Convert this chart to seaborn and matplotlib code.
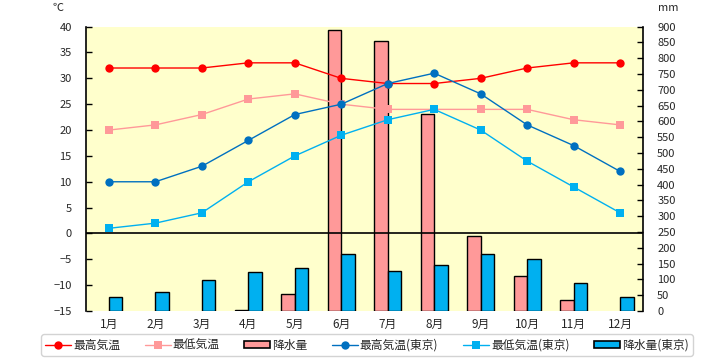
import matplotlib
matplotlib.use("Agg")
import matplotlib.pyplot as plt
import seaborn as sns
import pandas as pd
import numpy as np
from matplotlib.lines import Line2D
from matplotlib.patches import Patch

months = ["1月", "2月", "3月", "4月", "5月", "6月", "7月", "8月", "9月", "10月", "11月", "12月"]
max_temp = [32, 32, 32, 33, 33, 30, 29, 29, 30, 32, 33, 33]
min_temp = [20, 21, 23, 26, 27, 25, 24, 24, 24, 24, 22, 21]
precip = [0, 0, 0, 3, 53, 890, 853, 622, 237, 110, 34, 0]
tokyo_max = [10, 10, 13, 18, 23, 25, 29, 31, 27, 21, 17, 12]
tokyo_min = [1, 2, 4, 10, 15, 19, 22, 24, 20, 14, 9, 4]
tokyo_precip = [43, 60, 97, 122, 135, 182, 126, 145, 179, 164, 88, 43]

labels = ["最高気温", "最低気温", "降水量", "最高気温(東京)", "最低気温(東京)", "降水量(東京)"]
temp_ticks = list(range(-15, 41, 5))
rain_ticks = list(range(0, 901, 50))

RED = "#FF0000"
PINK = "#FF9999"
BLUE = "#0070C0"
CYAN = "#00B0F0"
BG = "#FFFFCC"

sns.set_theme(style="white")
plt.rcParams['font.family'] = ['Noto Sans CJK JP', 'DejaVu Sans']

fig = plt.figure(figsize=(7.2, 3.6), dpi=100)
ax_bar = fig.add_axes([0.119, 0.136, 0.7745, 0.790])
ax_bar.set_facecolor(BG)

df_bar = pd.DataFrame({
    "month": months * 2,
    "value": precip + tokyo_precip,
    "series": [labels[2]] * 12 + [labels[5]] * 12,
})
sns.barplot(data=df_bar, x="month", y="value", hue="series", order=months,
            hue_order=[labels[2], labels[5]], palette=[PINK, CYAN],
            width=0.58, edgecolor="black", linewidth=1.0, saturation=1,
            legend=False, ax=ax_bar, errorbar=None)
for p in ax_bar.patches:
    if p.get_height() == 0:
        p.set_linewidth(0)

ax_line = ax_bar.twinx()
x = np.arange(len(months))
line_specs = [
    (max_temp, RED, "o", 6),
    (min_temp, PINK, "s", 5.5),
    (tokyo_max, BLUE, "o", 6),
    (tokyo_min, CYAN, "s", 5.5),
]
for vals, col, mk, ms in line_specs:
    sns.lineplot(x=x, y=vals, color=col, marker=mk, markersize=ms,
                 markeredgewidth=0, linewidth=1.0, ax=ax_line)
ax_line.axhline(0, color="black", linewidth=1.2, zorder=1)

ax_bar.set_xlim(-0.5, 11.5)
ax_bar.set_ylim(0, 900)
ax_bar.set_yticks(rain_ticks)
ax_bar.yaxis.tick_right()
ax_bar.yaxis.set_label_position("right")
ax_line.set_ylim(-15, 40)
ax_line.set_yticks(temp_ticks)
ax_line.yaxis.tick_left()
ax_line.yaxis.set_label_position("left")

ax_bar.set_xlabel("")
ax_bar.set_ylabel("")
ax_line.set_xlabel("")
ax_line.set_ylabel("")

for a in (ax_bar, ax_line):
    for s in a.spines.values():
        s.set_visible(False)
ax_bar.spines["right"].set_visible(True)
ax_bar.spines["right"].set_color("black")
ax_bar.spines["right"].set_linewidth(1.2)
ax_line.spines["left"].set_visible(True)
ax_line.spines["left"].set_color("black")
ax_line.spines["left"].set_linewidth(1.2)

ax_bar.tick_params(axis="y", direction="in", length=4, width=1, color="black",
                   labelsize=8, pad=10, right=True, left=False)
ax_line.tick_params(axis="y", direction="in", length=4, width=1, color="black",
                    labelsize=8, pad=10, left=True, right=False)
ax_bar.tick_params(axis="x", length=0, labelsize=8.5, pad=5)
for lab in ax_bar.get_yticklabels():
    lab.set_horizontalalignment("left")

fig.text(58 / 720, 1 - 8 / 360, "℃", fontsize=8, ha="center", va="center")
fig.text(668 / 720, 1 - 8 / 360, "mm", fontsize=8, ha="center", va="center")

handles = [
    Line2D([], [], color=RED, marker="o", markersize=6, markeredgewidth=0, linewidth=1),
    Line2D([], [], color=PINK, marker="s", markersize=5.5, markeredgewidth=0, linewidth=1),
    Patch(facecolor=PINK, edgecolor="black", linewidth=1.2),
    Line2D([], [], color=BLUE, marker="o", markersize=6, markeredgewidth=0, linewidth=1),
    Line2D([], [], color=CYAN, marker="s", markersize=5.5, markeredgewidth=0, linewidth=1),
    Patch(facecolor=CYAN, edgecolor="black", linewidth=1.2),
]
leg = fig.legend(handles, labels, loc="center", bbox_to_anchor=(367 / 720, 1 - 345 / 360),
                 ncol=6, frameon=True, fancybox=True, fontsize=8.5,
                 handlelength=2.2, handleheight=0.5, handletextpad=0.15,
                 columnspacing=2.1, borderpad=0.35)
leg.get_frame().set_edgecolor("#C8C8C8")
leg.get_frame().set_linewidth(1.0)

fig.savefig("out.png", dpi=100)
